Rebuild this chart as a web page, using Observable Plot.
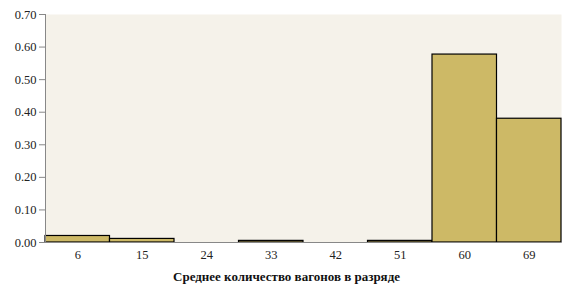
<!DOCTYPE html>
<html>
<head>
<meta charset="utf-8">
<script src="https://cdn.jsdelivr.net/npm/d3@7"></script>
<script src="https://cdn.jsdelivr.net/npm/@observablehq/plot@0.6"></script>
<style>
  body { margin: 0; background: #fff; }
  #chart svg { display: block; }
</style>
</head>
<body>
<div id="chart"></div>
<script>
const binCenters = [6, 15, 24, 33, 42, 51, 60, 69];
const shares = [0.020, 0.011, 0, 0.005, 0, 0.005, 0.577, 0.380];
const binWidth = 9;
const yTicks = [0, 0.1, 0.2, 0.3, 0.4, 0.5, 0.6, 0.7];
const xTitle = "Среднее количество вагонов в разряде";

const data = binCenters.map((c, i) => ({c, v: shares[i]})).filter(d => d.v > 0);

const chart = Plot.plot({
  width: 572,
  height: 306,
  marginLeft: 45,
  marginRight: 11,
  marginTop: 14,
  marginBottom: 64,
  style: {fontFamily: "Liberation Serif", fontSize: "12.5px", color: "#222", background: "#fff"},
  x: {domain: [binCenters[0] - binWidth / 2, binCenters[binCenters.length - 1] + binWidth / 2], label: null},
  y: {domain: [0, 0.7], label: null},
  marks: [
    Plot.frame({fill: "#f5f2ea", stroke: "none"}),
    Plot.rectY(data, {x1: d => d.c - binWidth / 2, x2: d => d.c + binWidth / 2, y: "v", fill: "#cdb966", stroke: "#000", strokeWidth: 1.2}),
    Plot.ruleY([0], {stroke: "#888"}),
    Plot.ruleX([binCenters[0] - binWidth / 2], {stroke: "#888"}),
    Plot.axisY({ticks: yTicks, tickFormat: d3.format(".2f"), tickSize: 6, tickPadding: 3, stroke: "#888", color: "#222", label: null}),
    Plot.axisX({ticks: binCenters, tickFormat: d => String(d), tickSize: 0, tickPadding: 8, color: "#222", label: null}),
    Plot.text([xTitle], {text: d => d, frameAnchor: "bottom", dx: -17, dy: 38, fontWeight: "bold", fontSize: 13, fill: "#111"})
  ]
});
document.getElementById("chart").append(chart);
</script>
</body>
</html>
